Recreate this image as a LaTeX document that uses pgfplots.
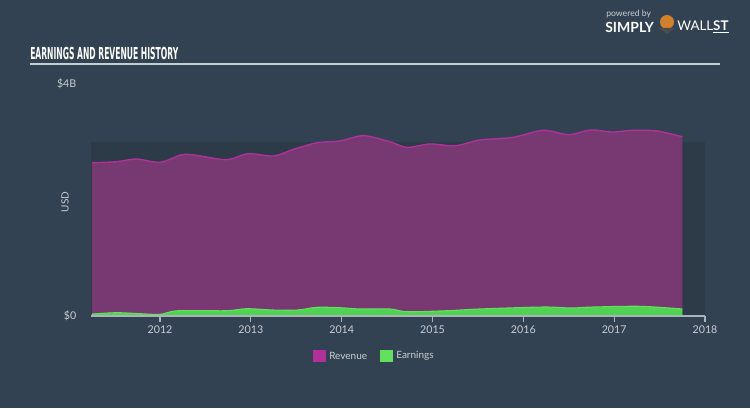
\documentclass[border=0pt]{standalone}
\usepackage{pgfplots}
\pgfplotsset{compat=1.18}
\usepackage{fontspec}
\setmainfont{Lato}
\newfontfamily\titlefont{DejaVu Sans Condensed}
\definecolor{bg}{RGB}{51,66,82}
\definecolor{panel}{RGB}{45,58,72}
\definecolor{revfill}{RGB}{120,57,115}
\definecolor{revline}{RGB}{176,49,154}
\definecolor{earnfill}{RGB}{80,210,82}
\definecolor{earnline}{RGB}{98,226,92}
\definecolor{txt}{RGB}{200,205,210}
\definecolor{axisc}{RGB}{170,178,186}
\begin{document}
\begin{tikzpicture}[x=0.75pt,y=0.75pt]
\fill[bg] (0,0) rectangle (750,408);
% title
\node[anchor=west, text=white, inner sep=0pt] at (30,408-53) {\resizebox{111pt}{9.2pt}{\titlefont\bfseries EARNINGS AND REVENUE HISTORY}};
\draw[txt, line width=1.1pt] (30,408-64) -- (720,408-64);
% logo
\node[anchor=west, text=txt, inner sep=0pt] at (606,408-14) {\fontsize{6.5pt}{7pt}\selectfont powered by};
\node[anchor=west, text=white, inner sep=0pt] at (605,408-27) {\fontsize{10.5pt}{11pt}\selectfont\bfseries SIMPLY};
\fill[brown!70!orange] (667,408-22) circle (7);
\fill[black!70] (667,408-34) -- (659,408-28) -- (675,408-28) -- cycle;
\node[anchor=west, text=white, inner sep=0pt] at (677,408-27) {\fontsize{10pt}{11pt}\selectfont WALL\underline{\bfseries ST}};
% USD label
\node[rotate=90, text=txt, inner sep=0pt] at (65,408-202) {\fontsize{7.5pt}{8pt}\selectfont USD};
\begin{axis}[
  at={(68.25pt,69pt)}, anchor=south west, scale only axis,
  width=460.5pt, height=174pt,
  xmin=2011.24, xmax=2018, ymin=0, ymax=4,
  axis line style={draw=none},
  xtick={2012,2013,2014,2015,2016,2017,2018},
  xticklabels={2012,2013,2014,2015,2016,2017,2018},
  xtick pos=bottom, tick align=outside,
  major tick length=4.5pt,
  xtick style={draw=axisc, line width=0.8pt},
  ytick={0,4}, yticklabels={\$0,\$4B},
  ytick style={draw=none},
  tick label style={text=txt, font=\fontsize{8pt}{9pt}\selectfont},
  yticklabel style={xshift=-3pt},
  xticklabel style={yshift=1pt},
  clip=false,
]
\fill[panel] (axis cs:2011.24,0) rectangle (axis cs:2018,3);
\addplot[fill=revfill, draw=none, smooth] coordinates {
(2011.25,2.643)(2011.52,2.660)(2011.74,2.707)(2012.0,2.650)(2012.24,2.781)(2012.40,2.771)(2012.73,2.695)(2012.97,2.798)(2013.25,2.759)(2013.47,2.874)(2013.73,2.988)(2013.98,3.017)(2014.24,3.109)(2014.53,3.005)(2014.72,2.908)(2014.97,2.966)(2015.25,2.936)(2015.52,3.034)(2015.89,3.081)(2016.22,3.202)(2016.50,3.126)(2016.74,3.207)(2016.99,3.172)(2017.21,3.202)(2017.47,3.190)(2017.75,3.091)
} \closedcycle;
\addplot[draw=revline, line width=1pt, smooth] coordinates {
(2011.25,2.643)(2011.52,2.660)(2011.74,2.707)(2012.0,2.650)(2012.24,2.781)(2012.40,2.771)(2012.73,2.695)(2012.97,2.798)(2013.25,2.759)(2013.47,2.874)(2013.73,2.988)(2013.98,3.017)(2014.24,3.109)(2014.53,3.005)(2014.72,2.908)(2014.97,2.966)(2015.25,2.936)(2015.52,3.034)(2015.89,3.081)(2016.22,3.202)(2016.50,3.126)(2016.74,3.207)(2016.99,3.172)(2017.21,3.202)(2017.47,3.190)(2017.75,3.091)
};
\addplot[fill=earnfill, draw=none, smooth] coordinates {
(2011.25,0.034)(2011.52,0.057)(2011.78,0.040)(2012.0,0.029)(2012.20,0.091)(2012.73,0.091)(2012.95,0.126)(2013.25,0.103)(2013.51,0.103)(2013.73,0.150)(2013.98,0.143)(2014.20,0.121)(2014.53,0.121)(2014.72,0.074)(2015.16,0.091)(2015.52,0.121)(2016.22,0.155)(2016.52,0.138)(2016.77,0.155)(2017.29,0.167)(2017.75,0.121)
} \closedcycle;
\addplot[draw=earnline, line width=0.8pt, smooth] coordinates {
(2011.25,0.034)(2011.52,0.057)(2011.78,0.040)(2012.0,0.029)(2012.20,0.091)(2012.73,0.091)(2012.95,0.126)(2013.25,0.103)(2013.51,0.103)(2013.73,0.150)(2013.98,0.143)(2014.20,0.121)(2014.53,0.121)(2014.72,0.074)(2015.16,0.091)(2015.52,0.121)(2016.22,0.155)(2016.52,0.138)(2016.77,0.155)(2017.29,0.167)(2017.75,0.121)
};
\draw[axisc, line width=0.8pt] (axis cs:2011.24,0) -- (axis cs:2018,0);
\end{axis}
% legend
\fill[revline] (313,408-362) rectangle (326,408-350);
\node[anchor=west, text=txt, inner sep=0pt] at (329,408-356) {\fontsize{7.5pt}{8pt}\selectfont Revenue};
\fill[earnline] (380,408-362) rectangle (393,408-350);
\node[anchor=west, text=txt, inner sep=0pt] at (396,408-356) {\fontsize{7.5pt}{8pt}\selectfont Earnings};
\end{tikzpicture}
\end{document}
